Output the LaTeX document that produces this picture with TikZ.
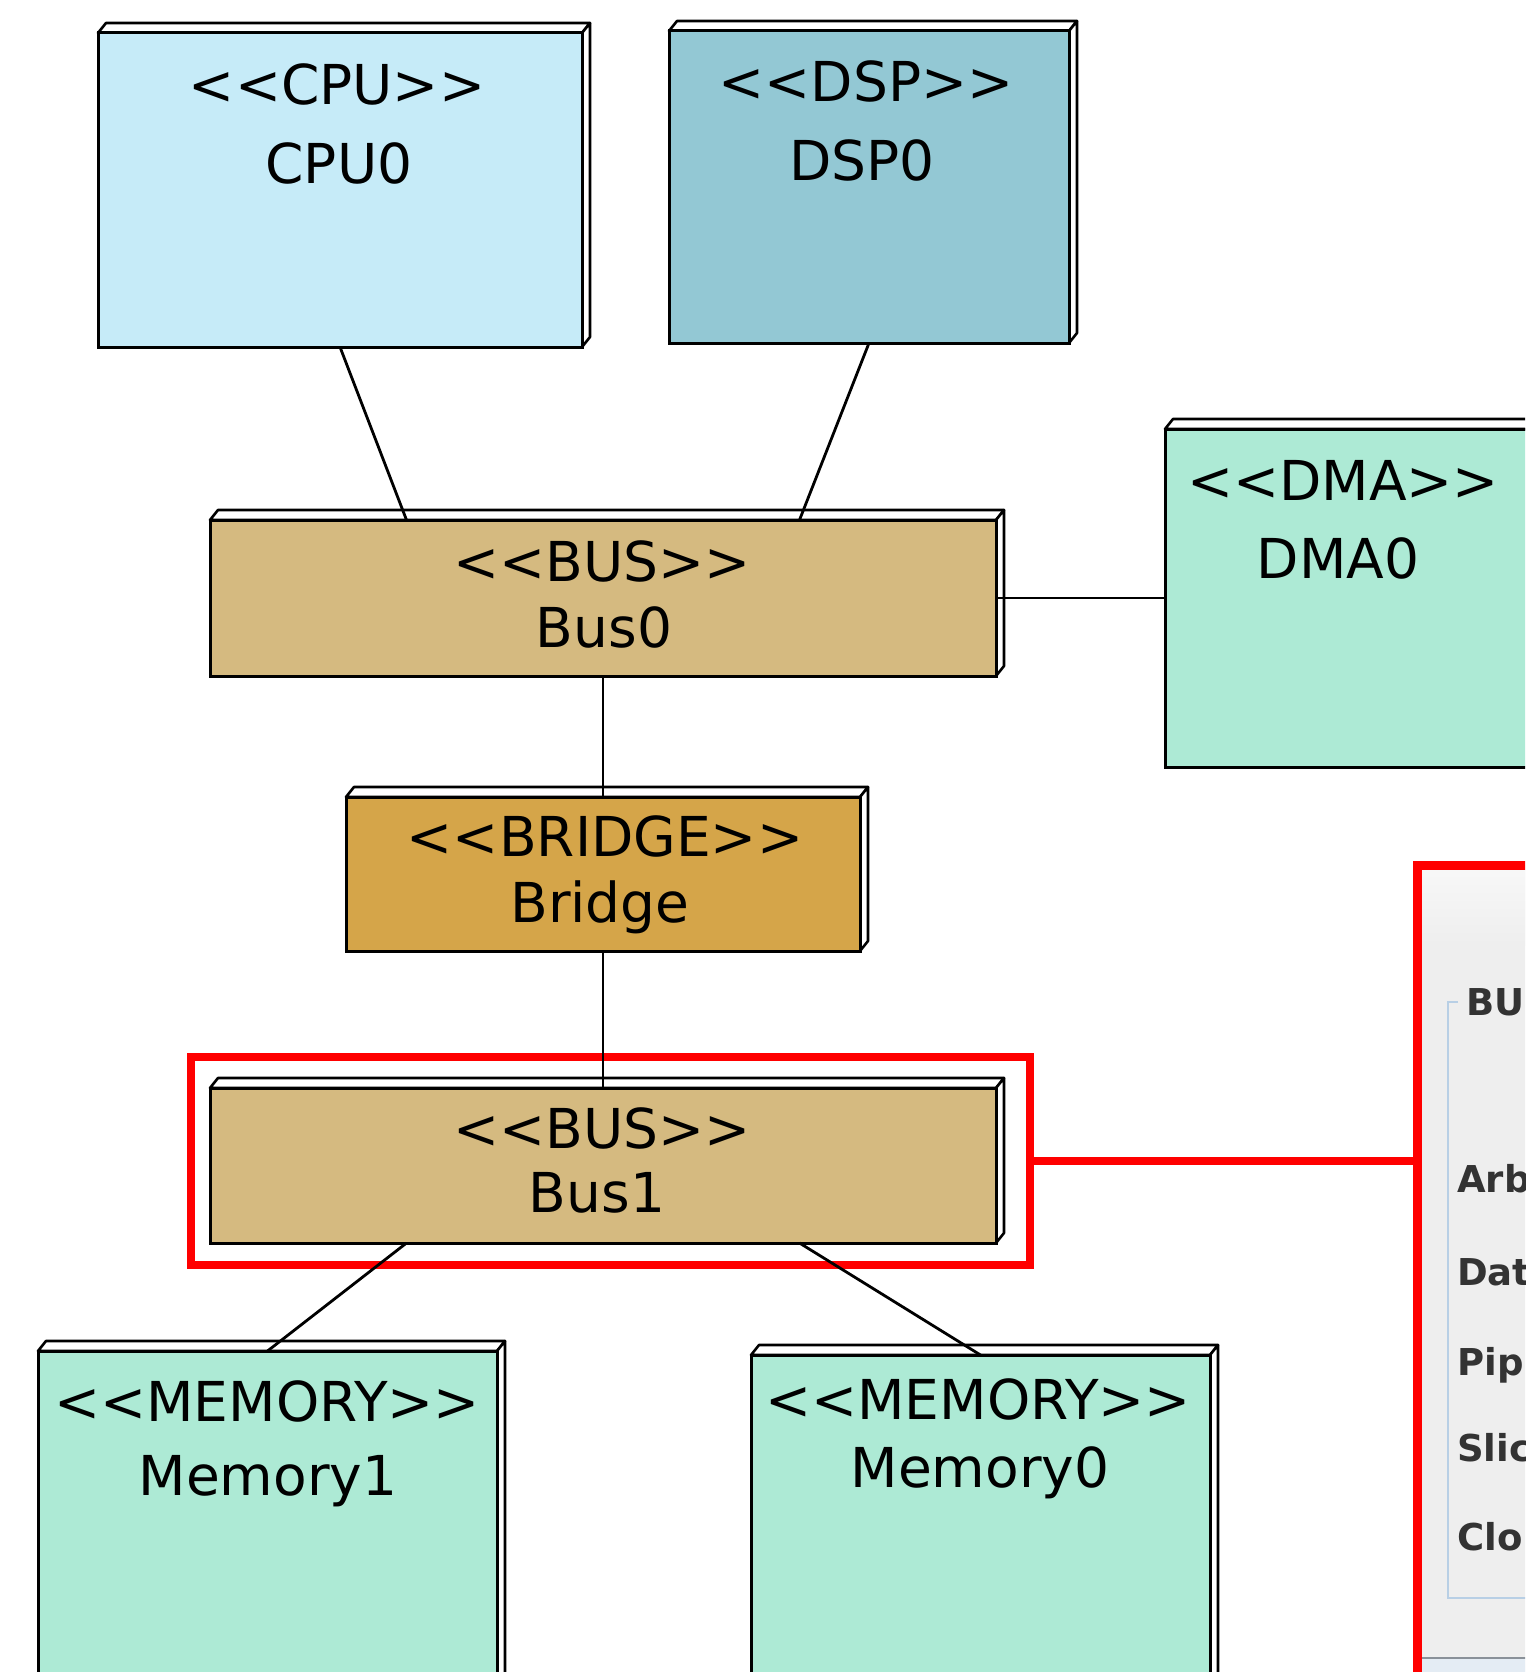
\documentclass[tikz,border=0pt]{standalone}
\usepackage{fontspec}
\setmainfont{DejaVu Sans}[Ligatures=TeXOff]
\usepackage{tikz}
\usetikzlibrary{calc}

\definecolor{cpufill}{HTML}{C6EBF8}
\definecolor{dspfill}{HTML}{93C8D4}
\definecolor{busfill}{HTML}{D5BA80}
\definecolor{bridgefill}{HTML}{D5A549}
\definecolor{memfill}{HTML}{ADEAD5}
\definecolor{panelgrey}{HTML}{EEEEEE}
\definecolor{groupblue}{HTML}{B8CFE5}
\definecolor{statusblue}{HTML}{E4ECF4}
\definecolor{sepgrey}{HTML}{8A9199}
\definecolor{dlgtext}{HTML}{333333}

\begin{document}
\begin{tikzpicture}[x=1pt, y=-1pt,
    face/.style={draw, fill=white, line width=2.6, line join=round},
    unit/.style={draw, line width=3, inner sep=0, outer sep=0, anchor=north west,
      append after command={\pgfextra{\let\unitnode\tikzlastnode
        \draw[face] (\unitnode.north west) -- ++(8,-10) -- ([shift={(8,-10)}]\unitnode.north east) -- (\unitnode.north east) -- cycle;
        \draw[face] (\unitnode.north east) -- ++(8,-10) -- ([shift={(8,-10)}]\unitnode.south east) -- (\unitnode.south east) -- cycle;}}},
    stereo/.style={font=\fontsize{55}{66}\selectfont, anchor=base, inner sep=0},
    link/.style={draw, line width=2.8},
    hilite/.style={draw=red, line width=8, inner sep=0, outer sep=0, anchor=north west},
    dlgtext/.style={font=\bfseries\fontsize{37}{44}\selectfont, text=dlgtext, anchor=base west, inner sep=0}]
  \useasboundingbox (0,0) rectangle (1525,1672);
  \clip (0,0) rectangle (1525,1672);
  \fill[white] (0,0) rectangle (1525,1672);

  % processors
  \node[unit, fill=cpufill, minimum width=484, minimum height=314] (cpu0) at (98,33) {};
  \node[stereo] (cpu0-st) at (337,105) {<<CPU>>};
  \node[stereo] (cpu0-nm) at (339,184) {CPU0};
  \node[unit, fill=dspfill, minimum width=400, minimum height=312] (dsp0) at (669,31) {};
  \node[stereo] (dsp0-st) at (866,102) {<<DSP>>};
  \node[stereo] (dsp0-nm) at (862,181) {DSP0};

  % buses and bridge
  \node[unit, fill=busfill, minimum width=786, minimum height=156] (bus0) at (210,520) {};
  \node[stereo] (bus0-st) at (602,581) {<<BUS>>};
  \node[stereo] (bus0-nm) at (604,647) {Bus0};
  \node[unit, fill=memfill, minimum width=370, minimum height=338] (dma0) at (1165,429) {};
  \node[stereo] (dma0-st) at (1343,500) {<<DMA>>};
  \node[stereo] (dma0-nm) at (1338,578) {DMA0};
  \node[unit, fill=bridgefill, minimum width=514, minimum height=154] (bridge) at (346,797) {};
  \node[stereo] (bridge-st) at (605,856) {<<BRIDGE>>};
  \node[stereo] (bridge-nm) at (600,922) {Bridge};
  \node[unit, fill=busfill, minimum width=786, minimum height=155] (bus1) at (210,1088) {};
  \node[stereo] (bus1-st) at (602,1148) {<<BUS>>};
  \node[stereo] (bus1-nm) at (597,1212) {Bus1};
  \node[hilite, minimum width=839, minimum height=208] (sel) at (191,1057) {};

  % memories
  \node[unit, fill=memfill, minimum width=459, minimum height=360] (mem1) at (38,1351) {};
  \node[stereo] (mem1-st) at (267,1421) {<<MEMORY>>};
  \node[stereo] (mem1-nm) at (268,1495) {Memory1};
  \node[unit, fill=memfill, minimum width=459, minimum height=360] (mem0) at (751,1355) {};
  \node[stereo] (mem0-st) at (978,1419) {<<MEMORY>>};
  \node[stereo] (mem0-nm) at (980,1487) {Memory0};

  % property panel
  \node[draw=red, fill=panelgrey, line width=9, inner sep=0, outer sep=0, anchor=north west,
        minimum width=200, minimum height=900] (panel) at (1417,865) {};
  \shade[top color=white!97!black, bottom color=panelgrey] (1422,870) rectangle (1530,945);
  \draw[groupblue, line width=2] (1458,1002) -- (1448,1002) -- (1448,1598) -- (1530,1598);
  \node[dlgtext] (grp-title) at (1466,1015) {BU};
  \node[dlgtext] (f-arb) at (1457,1192) {Arb};
  \node[dlgtext] (f-dat) at (1457,1285) {Dat};
  \node[dlgtext] (f-pip) at (1457,1375) {Pip};
  \node[dlgtext] (f-slic) at (1457,1461) {Slic};
  \node[dlgtext] (f-clo) at (1457,1550) {Clo};
  \fill[statusblue] (1422,1659) rectangle (1530,1680);
  \draw[sepgrey, line width=2.5] (1422,1658) -- (1530,1658);

  \coordinate (bus0-w) at ($(bus0.north west)!0.25!(bus0.north east)$);
  \coordinate (bus0-e) at ($(bus0.north west)!0.75!(bus0.north east)$);
  \coordinate (bus1-w) at ($(bus1.south west)!0.25!(bus1.south east)$);
  \coordinate (bus1-e) at ($(bus1.south west)!0.75!(bus1.south east)$);
  \path[link]
  (cpu0.south) edge (bus0-w)
  (dsp0.south) edge (bus0-e)
  (bus0.east) edge (dma0.west)
  (bus0.south) edge (bridge.north)
  (bridge.south) edge (bus1.north)
  (bus1-w) edge (mem1.north)
  (bus1-e) edge (mem0.north)
  ;
  \draw[red, line width=8] (sel.east) -- (sel.east -| panel.west);
\end{tikzpicture}
\end{document}
